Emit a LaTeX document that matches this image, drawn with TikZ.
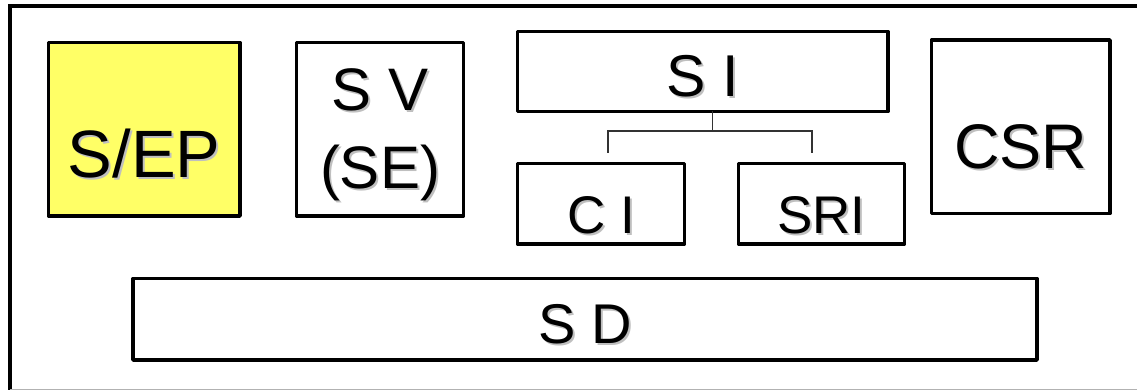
\documentclass[tikz,border=0pt]{standalone}
\usepackage{fontspec}
\setmainfont{Liberation Sans}
\usepackage{xcolor}
\usetikzlibrary{positioning}
\definecolor{boxyellow}{RGB}{255,255,102}
\newcommand{\shd}[1]{\makebox[0pt][l]{\hspace{2pt}\raisebox{-2pt}{\textcolor{black!25}{#1}}}#1}

\begin{document}
\begin{tikzpicture}[
    x=1pt, y=-1pt,
    blk/.style={rectangle, draw, line width=3.5pt, line join=round, inner sep=0pt, outer sep=0pt, align=center, text depth=0pt},
    fork/.style={draw=black!80, line width=1.3pt}
]
\useasboundingbox (0,0) rectangle (1137,390);
% frame
\draw[line width=4pt] (10,400) |- (1150,6);
\draw[black!30, line width=1pt] (10,389) -- (1137,389);

\node[blk, fill=boxyellow, minimum width=191.5pt, minimum height=173.5pt, text height=96pt, font=\fontsize{67}{80}\selectfont] (sep) at (144.25,129.25) {\shd{S/EP}};
\node[blk, right=56.5pt of sep, minimum width=167pt, minimum height=173.5pt, text height=118pt, font=\fontsize{60}{78}\selectfont] (sv) {\shd{S V}\\\shd{(SE)}};
\node[blk, minimum width=370.5pt, minimum height=80pt, text height=51pt, font=\fontsize{59}{70}\selectfont] (si) at (702.75,71.5) {\shd{S I}};
\node[blk, below=52pt of si.south west, anchor=north west, minimum width=167pt, minimum height=80.5pt, text height=60pt, font=\fontsize{53}{64}\selectfont] (ci) {\shd{C I}};
\node[blk, right=54pt of ci, minimum width=166pt, minimum height=80.5pt, text height=60pt, font=\fontsize{53}{64}\selectfont] (sri) {\shd{SRI}};
\node[blk, minimum width=178.5pt, minimum height=173.5pt, text height=84pt, font=\fontsize{63}{76}\selectfont] (csr) at (1020.75,126.75) {\shd{CSR}};
\node[blk, minimum width=904pt, minimum height=81.5pt, text height=49pt, font=\fontsize{56}{68}\selectfont] (sd) at (585,319.25) {\shd{S D}};

% fork under S I
\coordinate (ciTop) at (608,153);
\coordinate (sriTop) at (812,153);
\draw[fork] ([xshift=9.5pt]si.south) -- ++(0,19.5);
\draw[fork] (ciTop) -- ++(0,-22) -| (sriTop);
\end{tikzpicture}
\end{document}
